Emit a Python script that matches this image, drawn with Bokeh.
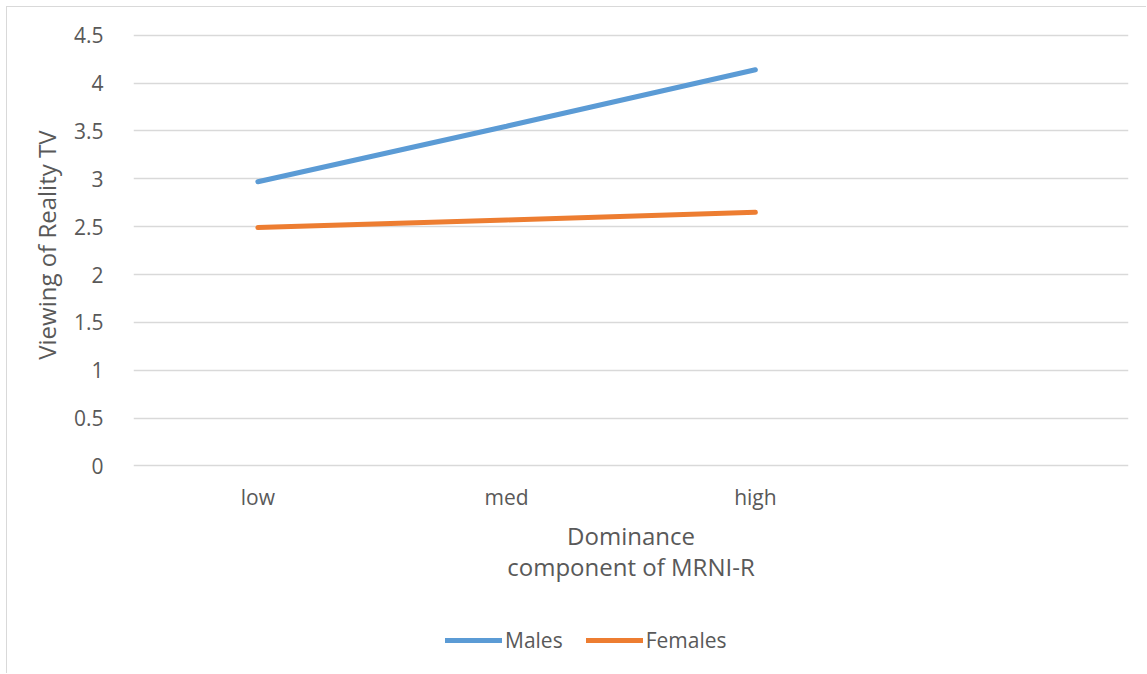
from bokeh.plotting import figure
from bokeh.models import FactorRange, Range1d, FixedTicker, Legend, LegendItem, Title
from bokeh.embed import file_html
from bokeh.resources import INLINE

# Dominance levels on the x axis (last slot left blank)
categories = ["low", "med", "high"]
blank_slot = [" "]

# Mean viewing of reality TV by group
males = [2.97, 3.55, 4.14]
females = [2.49, 2.57, 2.65]

# y axis ticks and their labels
y_ticks = [0, 0.5, 1, 1.5, 2, 2.5, 3, 3.5, 4, 4.5]
y_tick_labels = ["0", "0.5", "1", "1.5", "2", "2.5", "3", "3.5", "4", "4.5"]

FONT = "Open Sans"
TEXT = "#595959"
GRID = "#D9D9D9"
BLUE = "#5B9BD5"
ORANGE = "#ED7D31"

# The frame runs down to the bottom edge so the legend below the x axis
# stays inside it; the x axis itself is pinned at y = 0.
p = figure(
    width=1140, height=667,
    x_range=FactorRange(factors=categories + blank_slot, range_padding=0),
    y_range=Range1d(-2.18, 4.55),
    output_backend="svg", toolbar_location=None,
    min_border_left=126, min_border_right=19,
    min_border_top=23, min_border_bottom=0,
)
p.styles = {
    "margin-left": "6px", "margin-top": "6px",
    "border-left": f"1px solid {GRID}", "border-top": f"1px solid {GRID}",
}
p.outline_line_color = None
p.background_fill_color = "white"
p.border_fill_color = "white"

# grid
p.xgrid.grid_line_color = None
p.ygrid.grid_line_color = GRID
p.ygrid.grid_line_width = 1.4

# y axis
p.yaxis.ticker = FixedTicker(ticks=y_ticks)
p.yaxis.major_label_overrides = {t: l for t, l in zip(y_ticks, y_tick_labels)}
p.yaxis.axis_line_color = None
p.yaxis.major_tick_line_color = None
p.yaxis.minor_tick_line_color = None
p.yaxis.major_label_standoff = 24
p.yaxis.major_label_text_font = FONT
p.yaxis.major_label_text_font_size = "21px"
p.yaxis.major_label_text_color = TEXT

# y title, placed along the 0-4.5 span rather than the whole frame
y_title = Title(
    text="Viewing of Reality TV", align="right", offset=100,
    vertical_align="middle", standoff=14,
    text_font=FONT, text_font_size="24px", text_font_style="normal",
    text_color=TEXT,
)
p.add_layout(y_title, "left")

# x axis
p.xaxis.fixed_location = 0
p.xaxis.axis_line_color = None
p.xaxis.major_tick_line_color = None
p.xaxis.minor_tick_line_color = None
p.xaxis.major_label_standoff = 11
p.xaxis.major_label_text_font = FONT
p.xaxis.major_label_text_font_size = "21px"
p.xaxis.major_label_text_color = TEXT
p.xaxis.axis_label = "Dominance\ncomponent of MRNI-R"
p.xaxis.axis_label_text_font = FONT
p.xaxis.axis_label_text_font_size = "24px"
p.xaxis.axis_label_text_font_style = "normal"
p.xaxis.axis_label_text_color = TEXT
p.xaxis.axis_label_text_line_height = 0.95
p.xaxis.axis_label_standoff = 5

# series lines
r_m = p.line(categories, males, line_color=BLUE, line_width=5, line_cap="round")
r_f = p.line(categories, females, line_color=ORANGE, line_width=5, line_cap="round")

legend = Legend(
    items=[LegendItem(label="Males", renderers=[r_m]),
           LegendItem(label="Females", renderers=[r_f])],
    orientation="horizontal",
    location=(312, 20),
    padding=0, margin=0, spacing=23,
    glyph_width=57, glyph_height=20, label_height=20, label_standoff=3,
    label_text_font=FONT, label_text_font_size="21px", label_text_color=TEXT,
    border_line_color=None, background_fill_alpha=0,
)
p.add_layout(legend, "center")

open("out.html", "w").write(file_html(p, INLINE))
